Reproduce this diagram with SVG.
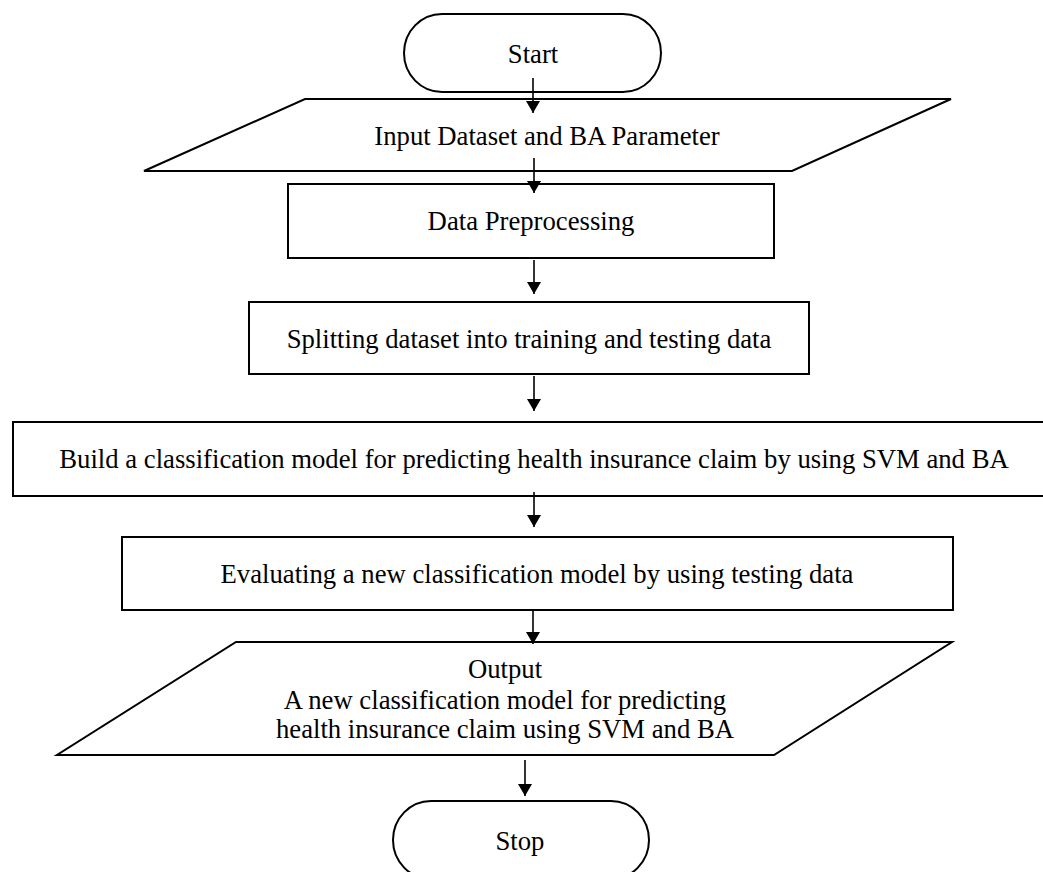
<svg xmlns="http://www.w3.org/2000/svg" width="1043" height="872" viewBox="0 0 1043 872">
<defs>
<style>
.s{fill:#fff;stroke:#000;stroke-width:2}
.t{font-family:"Liberation Serif","Times New Roman",serif;font-size:26.7px;fill:#000;text-anchor:middle}
.c{stroke:#000;stroke-width:1.6;fill:none;marker-end:url(#ah)}
</style>
<marker id="ah" viewBox="0 0 12 14" refX="12" refY="7" markerWidth="12" markerHeight="14" markerUnits="userSpaceOnUse" orient="auto">
<path d="M0,0 L12,7 L0,14 z" fill="#000"/>
</marker>
</defs>
<rect width="1043" height="872" fill="#fff"/>
<g id="start"><rect class="s" x="404" y="14" width="257" height="78" rx="38" ry="39"/><text class="t" x="533" y="63">Start</text></g>
<g id="input"><polygon class="s" points="305,99 951,99 792,171 144,171"/><text class="t" x="547" y="145">Input Dataset and BA Parameter</text></g>
<g id="preprocess"><rect class="s" x="288" y="184" width="486" height="74"/><text class="t" x="531" y="230">Data Preprocessing</text></g>
<g id="split"><rect class="s" x="249" y="302" width="560" height="72"/><text class="t" x="529" y="348">Splitting dataset into training and testing data</text></g>
<g id="build"><rect class="s" x="13" y="422" width="1040" height="74"/><text class="t" x="534" y="468">Build a classification model for predicting health insurance claim by using SVM and BA</text></g>
<g id="evaluate"><rect class="s" x="122" y="537" width="831" height="73"/><text class="t" x="537" y="583">Evaluating a new classification model by using testing data</text></g>
<g id="output"><polygon class="s" points="236,642 952,642 774,755 57,755"/><text class="t" x="505" y="678">Output</text><text class="t" x="505" y="709">A new classification model for predicting</text><text class="t" x="505" y="738">health insurance claim using SVM and BA</text></g>
<g id="stop"><rect class="s" x="393" y="801" width="256" height="78" rx="38" ry="39"/><text class="t" x="520" y="850">Stop</text></g>
<g id="connectors">
<line class="c" x1="533" y1="78" x2="533" y2="113"/>
<line class="c" x1="534" y1="158" x2="534" y2="193"/>
<line class="c" x1="534" y1="260" x2="534" y2="294"/>
<line class="c" x1="534" y1="376" x2="534" y2="411"/>
<line class="c" x1="534" y1="492" x2="534" y2="527"/>
<line class="c" x1="533" y1="610" x2="533" y2="644"/>
<line class="c" x1="525" y1="760" x2="525" y2="796"/>
</g>
</svg>
